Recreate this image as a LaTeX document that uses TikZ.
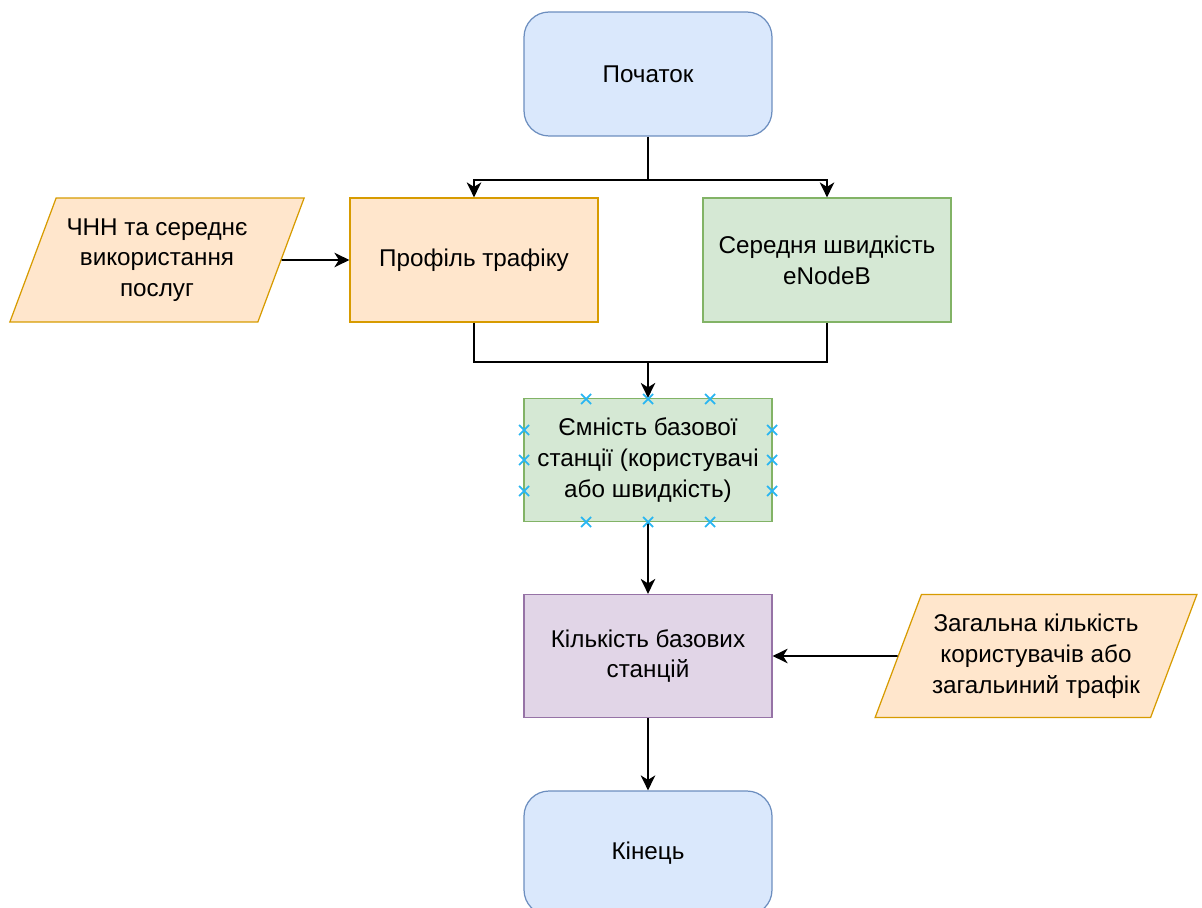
\documentclass[tikz,border=0pt]{standalone}
\usepackage{fontspec}
\setmainfont{Liberation Sans}
\usetikzlibrary{shapes.geometric}
\usetikzlibrary{arrows.meta}

\definecolor{blueFill}{HTML}{DAE8FC}
\definecolor{blueLine}{HTML}{6C8EBF}
\definecolor{orangeFill}{HTML}{FFE6CC}
\definecolor{orangeLine}{HTML}{D79B00}
\definecolor{greenFill}{HTML}{D5E8D4}
\definecolor{greenLine}{HTML}{82B366}
\definecolor{violetFill}{HTML}{E1D5E7}
\definecolor{violetLine}{HTML}{9673A6}
\definecolor{handle}{HTML}{29B6F2}

\begin{document}
\begin{tikzpicture}[x=0.02cm,y=-0.02cm,
        font=\fontsize{13.8}{17.5}\selectfont,
        box/.style={rectangle,draw,line width=0.7pt,minimum width=4.96cm,minimum height=2.48cm,align=center,inner sep=2pt},
        term/.style={box,rounded corners=0.5cm,draw=blueLine,fill=blueFill},
        data/.style={trapezium,trapezium left angle=64,trapezium right angle=116,trapezium stretches=true,
                     draw=orangeLine,fill=orangeFill,line width=0.7pt,minimum width=5.9cm,minimum height=2.48cm,align=center,inner sep=1pt},
        flow/.style={line width=1pt,arrows = -{Stealth[length=3mm,width=2.9mm,inset=0.9mm]}},
        plainline/.style={line width=1pt}]

            \useasboundingbox (0,0) rectangle (1202,908);

            \path   (648,74)  node (start) [term] {Початок}
                    (474,260) node (prof)  [box,draw=orangeLine,fill=orangeFill] {Профіль трафіку}
                    (827,260) node (speed) [box,draw=greenLine,fill=greenFill] {Середня швидкість\\eNodeB}
                    (157,260) node (busy)  [data] {ЧНН та середнє\\використання\\послуг}
                    (648,460) node (cap)   [box,draw=greenLine,fill=greenFill,minimum height=2.46cm] {Ємність базової\\станції (користувачі\\або швидкість)}
                    (648,656) node (count) [box,draw=violetLine,fill=violetFill,minimum height=2.46cm] {Кількість базових\\станцій}
                    (1036,656) node (total) [data,minimum width=6.45cm,minimum height=2.46cm] {Загальна кількість\\користувачів або\\загальиний трафік}
                    (648,853) node (stop)  [term] {Кінець};

            \coordinate (split) at (648,180);
            \coordinate (merge) at (648,362);

            \draw[plainline] (start) -- (split);
            \draw[flow] (split) -| (prof);
            \draw[flow] (split) -| (speed);
            \draw[plainline] (prof) |- (merge) -| (speed);
            \draw[flow] (merge) -- (cap);
            \draw[flow] (busy) -- (prof);
            \draw[flow] (cap) -- (count);
            \draw[flow] (total) -- (count);
            \draw[flow] (count) -- (stop);

            % selection handles
            \foreach \hx/\hy in {586/399,648/399,710/399,586/522,648/522,710/522,
                                 524/430,524/460,524/491,772/430,772/460,772/491}
                \draw[handle,line width=1pt] (\hx-5,\hy-5) -- (\hx+5,\hy+5) (\hx-5,\hy+5) -- (\hx+5,\hy-5);
        \end{tikzpicture}
\end{document}
